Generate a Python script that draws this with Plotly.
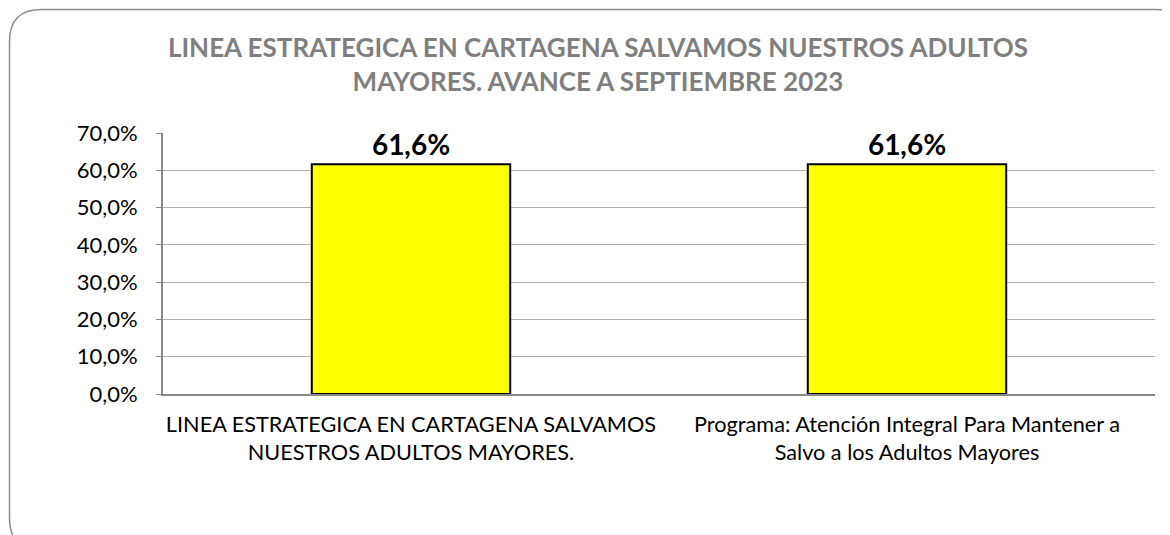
import plotly.graph_objects as go

categorias = [
    "LINEA ESTRATEGICA EN CARTAGENA SALVAMOS<br>NUESTROS ADULTOS MAYORES.",
    "Programa: Atención Integral Para Mantener a<br>Salvo a los Adultos Mayores",
]
avance = [0.616, 0.616]
etiquetas = ["61,6%", "61,6%"]
ticks_val = [0, 0.1, 0.2, 0.3, 0.4, 0.5, 0.6, 0.7]
ticks_txt = ["0,0%", "10,0%", "20,0%", "30,0%", "40,0%", "50,0%", "60,0%", "70,0%"]

# la página tiene un margen de 8px alrededor de la figura
OFF = 8
W, H = 1170 - OFF, 535 - OFF
ML, MT = 163 - OFF, 133 - OFF
MR = W - (1155 - OFF)
MB = H - (394 - OFF)
pw, ph = W - ML - MR, H - MT - MB


def px(x):
    return (x - OFF - ML) / pw


def py(y):
    return (H + OFF - MB - y) / ph


# Marco redondeado del gráfico (en píxeles de la página -> papel)
x0, y0, x1, y1, r = 9.5, 9.5, 1188, 550, 32
puntos = [
    ("M", x0 + r, y0), ("L", x1 - r, y0), ("Q", x1, y0, x1, y0 + r),
    ("L", x1, y1 - r), ("Q", x1, y1, x1 - r, y1), ("L", x0 + r, y1),
    ("Q", x0, y1, x0, y1 - r), ("L", x0, y0 + r), ("Q", x0, y0, x0 + r, y0),
]
path = ""
for p in puntos:
    cmd, coords = p[0], p[1:]
    pares = [f"{px(coords[i]):.5f},{py(coords[i + 1]):.5f}" for i in range(0, len(coords), 2)]
    path += cmd + " ".join(pares) + " "
path += "Z"

fig = go.Figure()
fig.add_trace(go.Bar(
    x=categorias, y=avance, width=0.4,
    marker=dict(color="#ffff00", line=dict(color="black", width=2)),
    text=etiquetas, textposition="outside", cliponaxis=False,
    textfont=dict(family="Lato", size=28, color="black", weight="bold"),
))

fig.update_layout(
    width=W, height=H,
    margin=dict(l=ML, r=MR, t=MT, b=MB),
    paper_bgcolor="white", plot_bgcolor="white",
    showlegend=False,
    font=dict(family="Lato", size=22, color="black"),
    title=dict(
        text="LINEA ESTRATEGICA EN CARTAGENA SALVAMOS NUESTROS ADULTOS<br>MAYORES. AVANCE A SEPTIEMBRE 2023",
        x=(598 - OFF) / W, xanchor="center", y=1 - 49 / H, yanchor="top",
        font=dict(family="Lato", size=26, color="#7f7f7f", weight="bold"),
    ),
    shapes=[dict(type="path", xref="paper", yref="paper", path=path,
                 line=dict(color="#8c8c8c", width=1.5), layer="below")],
)
fig.update_xaxes(showline=True, linecolor="#888888", linewidth=2, ticks="",
                 tickfont=dict(size=21.7), showgrid=False, ticklabelstandoff=10)
fig.update_yaxes(range=[0, 0.7], tickvals=ticks_val, ticktext=ticks_txt,
                 showgrid=True, gridcolor="#b0b0b0", gridwidth=1,
                 showline=True, linecolor="#888888", linewidth=2,
                 ticks="outside", ticklen=5, tickcolor="#888888",
                 tickfont=dict(size=22), zeroline=False, ticklabelstandoff=14)

fig.write_html("out.html")
